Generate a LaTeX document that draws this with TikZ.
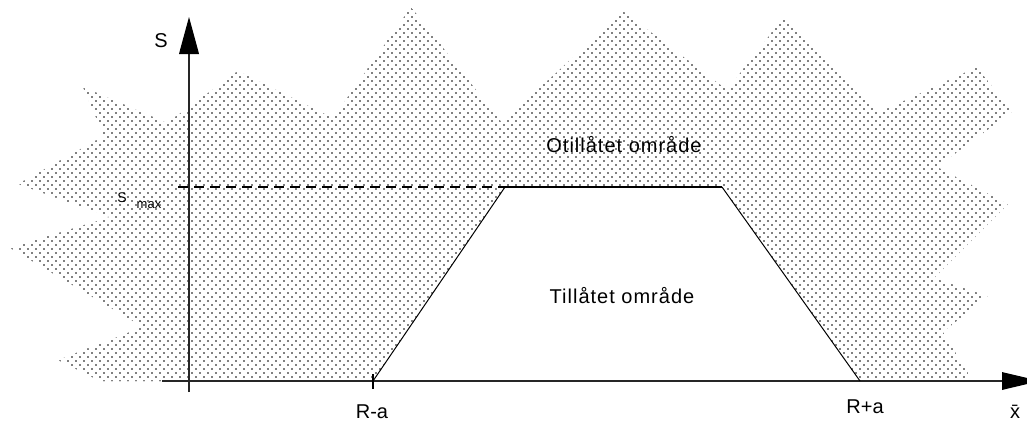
\documentclass[tikz,border=0pt]{standalone}
\usepackage{fontspec}
\setmainfont{Liberation Sans}
\usetikzlibrary{patterns}
\pgfdeclarepatternformonly{refdots}{\pgfqpoint{-1pt}{-1pt}}{\pgfqpoint{5pt}{5pt}}{\pgfqpoint{8pt}{8pt}}{%
  \pgfpathcircle{\pgfqpoint{0pt}{0pt}}{0.9pt}%
  \pgfpathcircle{\pgfqpoint{4pt}{4pt}}{0.9pt}%
  \pgfusepath{fill}}
\begin{document}
\begin{tikzpicture}[x=1pt,y=-1pt,
  axisline/.style={line width=2pt,black!85},
  bound/.style={line width=1pt,black},
  lbl/.style={inner sep=0pt,anchor=base,font=\fontsize{20}{24}\selectfont},
  region/.style={inner sep=0pt,anchor=base,font=\fontsize{20}{24}\selectfont\addfontfeature{LetterSpace=5}}]
\useasboundingbox (0,0) rectangle (1027,421);
\fill[white] (0,0) rectangle (1027,421);
% key points
\coordinate (O) at (189,381);
\coordinate (xs) at (162,381);
\coordinate (xe) at (1003,381);
\coordinate (ys) at (189,392);
\coordinate (ye) at (189,45);
\coordinate (A) at (373,381);
\coordinate (B) at (505,187);
\coordinate (C) at (722,187);
\coordinate (D) at (860,381);
\coordinate (ds) at (178,187);
\coordinate (tA1) at (373,374);
\coordinate (tA2) at (373,389);
% forbidden region
\fill[pattern=refdots,pattern color=black]
  (100,381) -- (A) -- (B) -- (C) -- (D) -- (973,381) -- (943,332) -- (988,296)
  -- (934,278) -- (1008,204) -- (937,167) -- (1012,112) -- (977,67) -- (880,112)
  -- (783,18) -- (727,90) -- (623,11) -- (502,123) -- (411,7) -- (333,118)
  -- (238,71) -- (167,123) -- (83,87) -- (104,136) -- (18,184) -- (110,217)
  -- (10,248) -- (143,327) -- (58,360) -- cycle;
% axes
\draw[axisline] (xs) -- (xe);
\draw[axisline] (ys) -- (ye);
\fill[black] (189,17) -- (198,50) -- (199,54) -- (179,54) -- (180,50) -- cycle;
\fill[black] (1002,372) -- (1006,373) -- (1040,381) -- (1006,389) -- (1002,390) -- cycle;
% boundary of allowed region
\draw[bound] (A) -- (B);
\draw[line width=1.6pt] (B) -- (C);
\draw[bound] (C) -- (D);
\draw[line width=1.3pt,dash pattern=on 10pt off 6pt] (ds) -- (B);
\draw[line width=1.5pt] (tA1) -- (tA2);
% labels
\node[lbl] (s) at (161,47) {S};
\node[inner sep=0pt,anchor=base,font=\fontsize{14}{16}\selectfont] (smax) at (122,202) {S};
\node[inner sep=0pt,anchor=base,font=\fontsize{13}{16}\selectfont] (smaxsub) at (149,208) {max};
\node[region] (otill) at (624,152) {Otillåtet område};
\node[region] (till) at (622,303) {Tillåtet område};
\node[lbl] (ra) at (372,418) {R-a};
\node[lbl] (rpa) at (865,413) {R+a};
\node[lbl] (xbar) at (1015,418) {\={x}};
\end{tikzpicture}
\end{document}
